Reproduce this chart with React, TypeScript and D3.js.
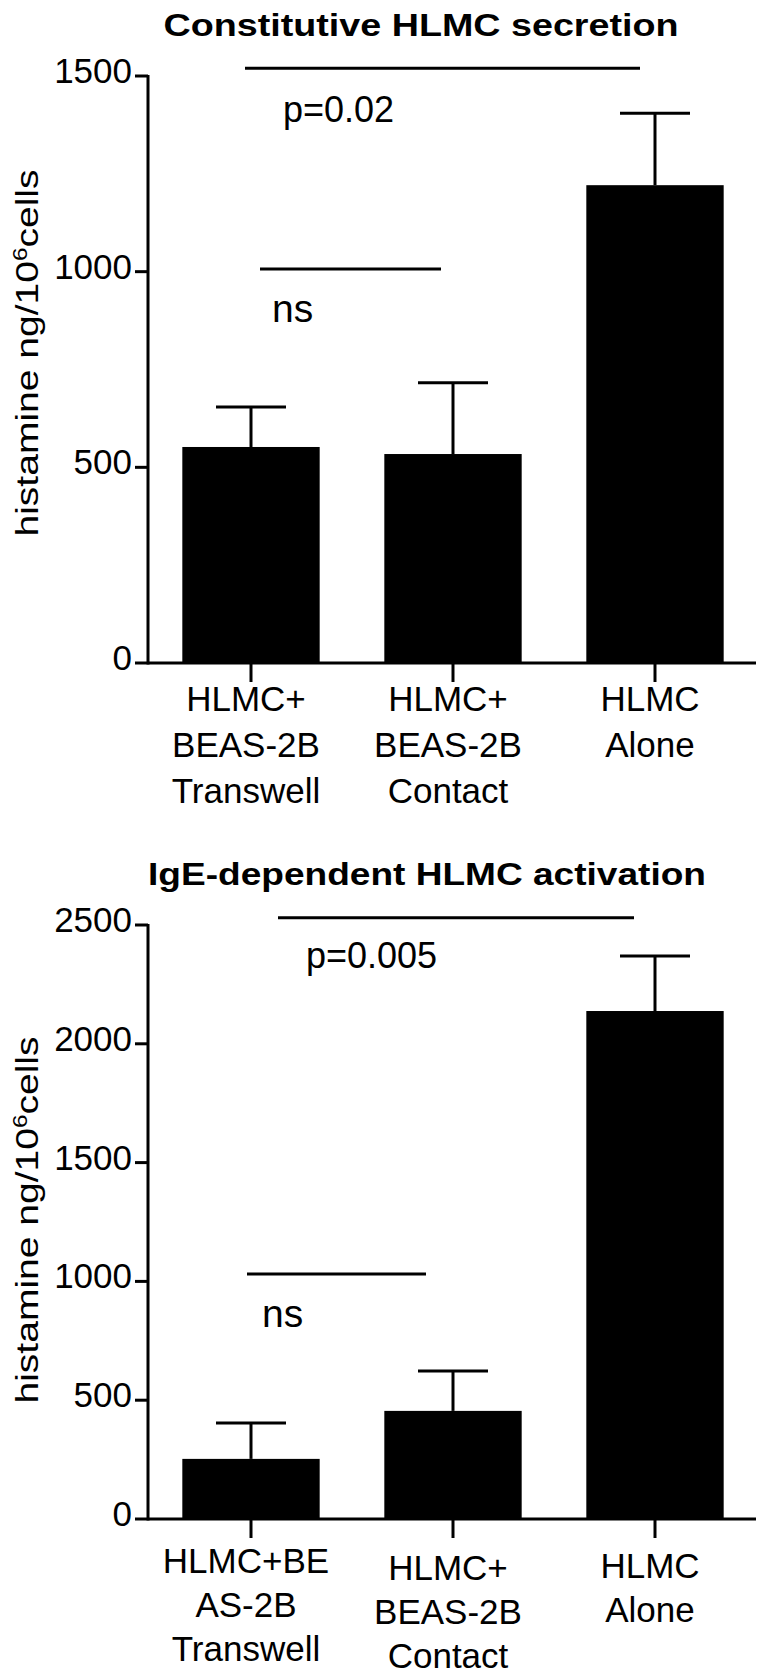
import React from "react";
import * as d3 from "d3";

// ---------- data ----------
const topCategories = [
  ["HLMC+", "BEAS-2B", "Transwell"],
  ["HLMC+", "BEAS-2B", "Contact"],
  ["HLMC", "Alone"],
];
const bottomCategories = [
  ["HLMC+BE", "AS-2B", "Transwell"],
  ["HLMC+", "BEAS-2B", "Contact"],
  ["HLMC", "Alone"],
];
const constitutiveMean = [552, 534, 1221];
const constitutiveSem = [102, 182, 184];
const igeMean = [253, 455, 2138];
const igeSem = [151, 168, 232];
const topTicks = [0, 500, 1000, 1500];
const bottomTicks = [0, 500, 1000, 1500, 2000, 2500];
const topTitle = "Constitutive HLMC secretion";
const bottomTitle = "IgE-dependent HLMC activation";

const topBrackets = [
  { from: 0, to: 2, value: 1520, label: "p=0.02", dx1: -6, dx2: -15, lx: 32, ly: 54, fs: 36 },
  { from: 0, to: 1, value: 1007, label: "ns", dx1: 9, dx2: -12, lx: 21, ly: 53, fs: 39 },
];
const bottomBrackets = [
  { from: 0, to: 2, value: 2530, label: "p=0.005", dx1: 27, dx2: -21, lx: 55, ly: 50, fs: 36 },
  { from: 0, to: 1, value: 1031, label: "ns", dx1: -4, dx2: -27, lx: 11, ly: 53, fs: 39 },
];

const FONT = "'Liberation Sans', Arial, Helvetica, sans-serif";

type PanelProps = {
  title: string;
  titleX: number;
  titleY: number;
  titleLen: number;
  yTop: number;
  yBottom: number;
  max: number;
  ticks: number[];
  means: number[];
  sems: number[];
  cats: string[][];
  brackets: typeof topBrackets;
  labelCenter: number;
  catLabelOffset: number[];
  catLineHeight: number;
};

function Panel(p: PanelProps) {
  const axisX = 148;
  const idx = p.cats.map((_, i) => String(i));
  const x = d3
    .scaleBand<string>()
    .domain(idx)
    .range([150, 756])
    .paddingInner(0.32)
    .paddingOuter(0.16);
  const y = d3.scaleLinear().domain([0, p.max]).range([p.yBottom, p.yTop]);
  const bw = x.bandwidth();
  const cx = (i: number) => (x(String(i)) as number) + bw / 2;
  const sw = 3;
  return (
    <g>
      <text
        x={p.titleX}
        y={p.titleY}
        textAnchor="middle"
        fontFamily={FONT}
        fontWeight="bold"
        fontSize={32}
        textLength={p.titleLen}
        lengthAdjust="spacingAndGlyphs"
      >
        {p.title}
      </text>
      {/* y label */}
      <text
        transform={`translate(38,${p.labelCenter}) rotate(-90)`}
        textAnchor="middle"
        fontFamily={FONT}
        fontSize={32}
        textLength={367}
        lengthAdjust="spacingAndGlyphs"
      >
        histamine ng/10
        <tspan fontSize={20} dy={-11}>6</tspan>
        <tspan dy={11}>cells</tspan>
      </text>
      {/* bars */}
      {p.means.map((m, i) => (
        <rect
          key={"b" + i}
          x={x(String(i))}
          y={y(m)}
          width={bw}
          height={y(0) - y(m)}
          fill="#000"
        />
      ))}
      {/* error bars */}
      {p.means.map((m, i) => (
        <g key={"e" + i} stroke="#000" strokeWidth={sw}>
          <line x1={cx(i)} x2={cx(i)} y1={y(m)} y2={y(m + p.sems[i])} />
          <line x1={cx(i) - 35} x2={cx(i) + 35} y1={y(m + p.sems[i])} y2={y(m + p.sems[i])} />
        </g>
      ))}
      {/* y axis */}
      <line x1={axisX} x2={axisX} y1={y(p.max) - 1} y2={y(0) + 1.5} stroke="#000" strokeWidth={sw} />
      {p.ticks.map((t) => (
        <g key={"t" + t}>
          <line x1={axisX - 13} x2={axisX} y1={y(t)} y2={y(t)} stroke="#000" strokeWidth={sw} />
          <text
            x={132}
            y={y(t) + 7}
            textAnchor="end"
            fontFamily={FONT}
            fontSize={35}
          >
            {t}
          </text>
        </g>
      ))}
      {/* x axis */}
      <line x1={axisX} x2={756} y1={y(0)} y2={y(0)} stroke="#000" strokeWidth={sw} />
      {p.cats.map((lines, i) => (
        <g key={"c" + i}>
          <line x1={cx(i)} x2={cx(i)} y1={y(0)} y2={y(0) + 19} stroke="#000" strokeWidth={sw} />
          <text textAnchor="middle" fontFamily={FONT} fontSize={35}>
            {lines.map((l, j) => (
              <tspan key={j} x={cx(i) - 5} y={y(0) + p.catLabelOffset[i] + j * p.catLineHeight}>
                {l}
              </tspan>
            ))}
          </text>
        </g>
      ))}
      {/* significance brackets */}
      {p.brackets.map((b, k) => (
        <g key={"s" + k}>
          <line
            x1={cx(b.from) + b.dx1}
            x2={cx(b.to) + b.dx2}
            y1={y(b.value)}
            y2={y(b.value)}
            stroke="#000"
            strokeWidth={sw}
          />
          <text
            x={cx(b.from) + b.lx}
            y={y(b.value) + b.ly}
            fontFamily={FONT}
            fontSize={b.fs}
          >
            {b.label}
          </text>
        </g>
      ))}
    </g>
  );
}

export default function App() {
  return (
    <svg
      width={760}
      height={1679}
      style={{ position: "absolute", left: 0, top: 0, background: "#fff" }}
    >
      <rect x={0} y={0} width={760} height={1679} fill="#fff" />
      <Panel
        title={topTitle}
        titleX={421}
        titleY={36}
        titleLen={515}
        yTop={76}
        yBottom={663}
        max={1500}
        ticks={topTicks}
        means={constitutiveMean}
        sems={constitutiveSem}
        cats={topCategories}
        brackets={topBrackets}
        labelCenter={353}
        catLabelOffset={[48, 48, 48]}
        catLineHeight={46}
      />
      <Panel
        title={bottomTitle}
        titleX={427}
        titleY={885}
        titleLen={558}
        yTop={925}
        yBottom={1519}
        max={2500}
        ticks={bottomTicks}
        means={igeMean}
        sems={igeSem}
        cats={bottomCategories}
        brackets={bottomBrackets}
        labelCenter={1220}
        catLabelOffset={[54, 61, 59]}
        catLineHeight={44}
      />
    </svg>
  );
}
